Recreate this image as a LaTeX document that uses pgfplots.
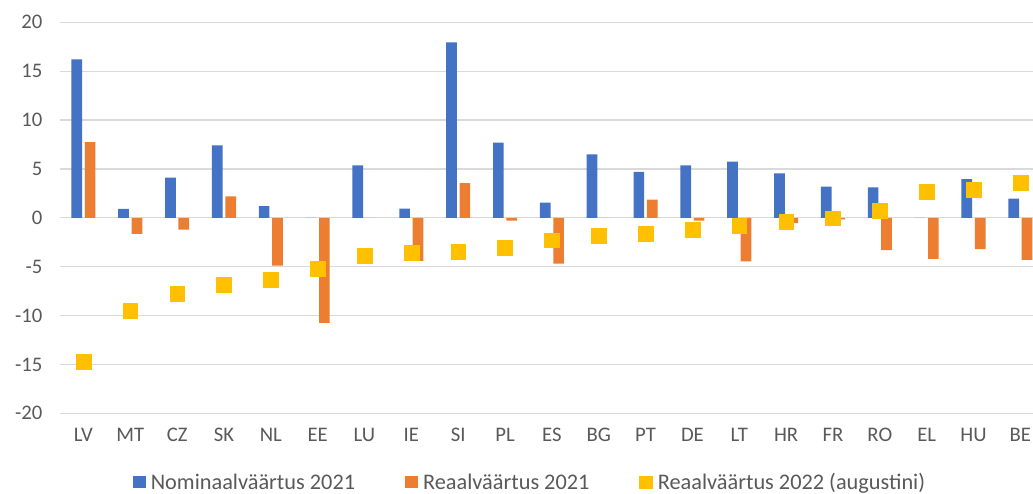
\documentclass[border=0pt]{standalone}
\usepackage{pgfplots}
\pgfplotsset{compat=1.18}
\usepackage{fontspec}
\setmainfont{Carlito}
\definecolor{cblue}{HTML}{4472C4}
\definecolor{corange}{HTML}{ED7D31}
\definecolor{cyellow}{HTML}{FFC000}
\definecolor{tgray}{HTML}{595959}
\definecolor{ggray}{HTML}{D9D9D9}
\newcommand{\fs}{\fontsize{20.7}{25}\selectfont}
\newcommand{\lfs}{\fontsize{22.3}{26}\selectfont}
\begin{document}
\begin{tikzpicture}[x=1pt,y=1pt]
\path[use as bounding box] (0,0) rectangle (1033,494);
\begin{axis}[
  at={(60pt,80.7pt)}, anchor=south west,
  scale only axis, width=973pt, height=391pt,
  xmin=-0.5, xmax=20.27, ymin=-20, ymax=20,
  axis line style={draw=none},
  major tick length=0pt,
  ymajorgrids,
  major grid style={draw=ggray, line width=1.2pt},
  xtick={0,...,20},
  xticklabels={LV,MT,CZ,SK,NL,EE,LU,IE,SI,PL,ES,BG,PT,DE,LT,HR,FR,RO,EL,HU,BE},
  ytick={-20,-15,...,20},
  /pgf/number format/assume math mode=true,
  xticklabel style={font=\fs, text=tgray, yshift=-11pt},
  yticklabel style={font=\fs, text=tgray, xshift=-14pt},
  legend columns=3,
  legend style={at={(0.483,-0.176)}, anchor=center, draw=none, fill=none,
    font=\lfs, text=tgray,
    /tikz/every even column/.append style={column sep=48pt}},
]
\addplot[ybar, bar width=0.228, bar shift=-0.143, fill=cblue, draw=none,
  legend image code/.code={\fill[cblue] (0pt,-6pt) rectangle (13pt,6pt); \path (16pt,0pt);}]
  coordinates {(0,16.2) (1,0.9) (2,4.1) (3,7.4) (4,1.2) (5,0) (6,5.35) (7,0.95) (8,17.95) (9,7.7) (10,1.55) (11,6.5) (12,4.7) (13,5.35) (14,5.75) (15,4.55) (16,3.2) (17,3.1) (18,0) (19,3.95) (20,1.95)};
\addlegendentry{Nominaalväärtus 2021}
\addplot[ybar, bar width=0.228, bar shift=0.143, fill=corange, draw=none,
  legend image code/.code={\fill[corange] (0pt,-6pt) rectangle (13pt,6pt); \path (16pt,0pt);}]
  coordinates {(0,7.75) (1,-1.65) (2,-1.2) (3,2.2) (4,-4.9) (5,-10.75) (6,0) (7,-4.4) (8,3.55) (9,-0.3) (10,-4.7) (11,0) (12,1.85) (13,-0.3) (14,-4.45) (15,-0.55) (16,-0.15) (17,-3.3) (18,-4.2) (19,-3.2) (20,-4.3)};
\addlegendentry{Reaalväärtus 2021}
\addplot[only marks, mark=square*, mark size=7.35pt, color=cyellow,
  mark options={draw=none, fill=cyellow},
  legend image code/.code={\fill[cyellow] (0pt,-6pt) rectangle (13pt,6pt); \path (16pt,0pt);}]
  coordinates {(0,-14.7) (1,-9.5) (2,-7.75) (3,-6.85) (4,-6.3) (5,-5.2) (6,-3.85) (7,-3.55) (8,-3.45) (9,-3.05) (10,-2.3) (11,-1.8) (12,-1.6) (13,-1.2) (14,-0.8) (15,-0.4) (16,-0.05) (17,0.75) (18,2.7) (19,2.9) (20,3.6)};
\addlegendentry{Reaalväärtus 2022 (augustini)}
\end{axis}
\end{tikzpicture}
\end{document}
